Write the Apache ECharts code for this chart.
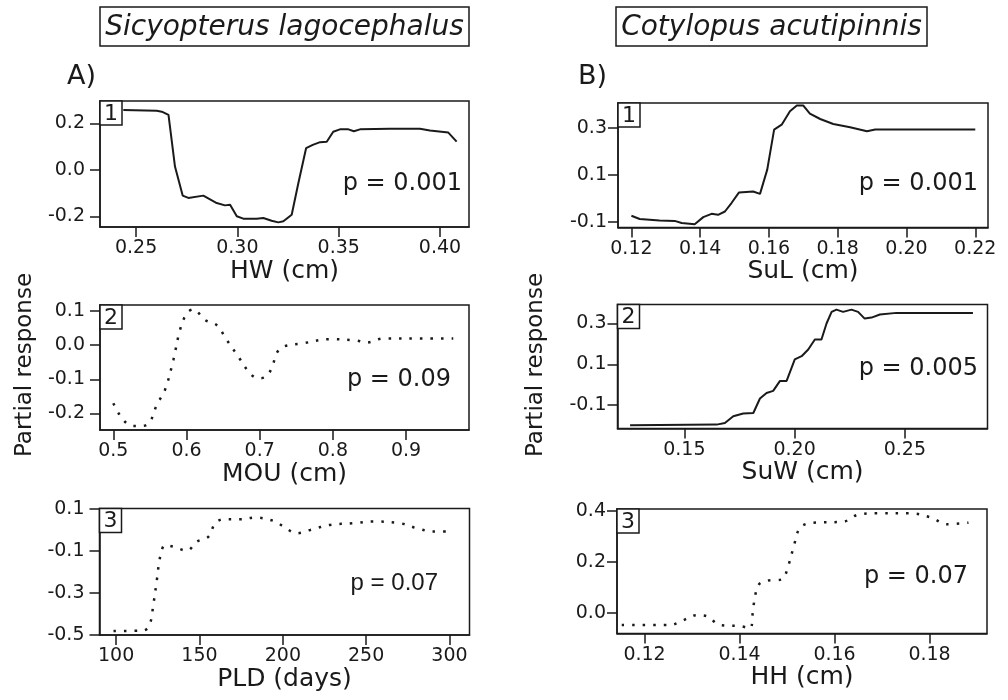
<!DOCTYPE html>
<html>
<head>
<meta charset="utf-8">
<script src="https://cdn.jsdelivr.net/npm/echarts@6/dist/echarts.min.js"></script>
<style>html,body{margin:0;padding:0;background:#fff}#c{width:1008px;height:700px}</style>
</head>
<body>
<div id="c"></div>
<script>
// ---- data ----
const a1X = [0.2437,0.2602,0.2627,0.266,0.2692,0.273,0.2758,0.2832,0.2898,0.2939,0.2964,0.2997,0.3029,0.3095,0.3128,0.3169,0.3202,0.3227,0.3268,0.3301,0.3339,0.3372,0.3408,0.3441,0.3473,0.3506,0.3548,0.3575,0.3605,0.3753,0.3901,0.395,0.4041,0.4082];
const a1Y = [0.257,0.254,0.25,0.236,0.014,-0.111,-0.121,-0.111,-0.143,-0.153,-0.15,-0.2,-0.21,-0.21,-0.207,-0.219,-0.226,-0.221,-0.193,-0.057,0.093,0.107,0.119,0.121,0.164,0.174,0.174,0.166,0.174,0.177,0.177,0.169,0.16,0.121];
const a2X = [0.5,0.5137,0.5273,0.541,0.5501,0.5593,0.5706,0.582,0.5911,0.6003,0.6093,0.6253,0.6413,0.6549,0.6708,0.6868,0.698,0.7072,0.7164,0.7232,0.7322,0.7596,0.796,0.8325,0.8462,0.8689,0.9235,0.9645];
const a2Y = [-0.17,-0.219,-0.236,-0.236,-0.224,-0.175,-0.131,-0.044,0.044,0.092,0.104,0.073,0.058,0.015,-0.034,-0.083,-0.097,-0.094,-0.068,-0.024,-0.005,0.005,0.017,0.013,0.007,0.019,0.019,0.019];
const a3X = [98.4,116.4,120,122.4,124.4,126.4,129.4,134.4,142.4,148.4,155.4,159.4,164.4,174.4,183.4,194.4,200.4,208.4,216.4,228.4,242.4,254.4,270.4,280.4,290.4,299.4];
const a3Y = [-0.481,-0.478,-0.454,-0.35,-0.239,-0.128,-0.072,-0.08,-0.099,-0.056,-0.032,0.032,0.051,0.051,0.059,0.043,0.016,-0.016,0,0.024,0.032,0.04,0.032,0.008,-0.008,-0.008];
const b1X = [0.12,0.1224,0.1282,0.1326,0.1346,0.1384,0.1409,0.1433,0.1452,0.1472,0.1491,0.1513,0.1554,0.1574,0.1595,0.1615,0.1637,0.1661,0.1681,0.17,0.1719,0.1749,0.1787,0.1836,0.1885,0.1909,0.22];
const b1Y = [-0.073,-0.087,-0.093,-0.095,-0.104,-0.109,-0.079,-0.065,-0.069,-0.055,-0.019,0.026,0.03,0.02,0.123,0.293,0.314,0.371,0.395,0.395,0.361,0.338,0.317,0.303,0.286,0.293,0.293];
const b2X = [0.1254,0.1647,0.1684,0.1722,0.1767,0.1813,0.1843,0.1873,0.1903,0.1934,0.1964,0.2001,0.2032,0.2062,0.2092,0.2122,0.2145,0.2168,0.219,0.222,0.2258,0.2288,0.2318,0.2349,0.2387,0.2462,0.2809];
const b2Y = [-0.198,-0.195,-0.187,-0.154,-0.141,-0.138,-0.067,-0.04,-0.03,0.019,0.019,0.124,0.14,0.173,0.222,0.222,0.3,0.357,0.368,0.357,0.368,0.357,0.324,0.329,0.344,0.352,0.352];
const b3X = [0.1152,0.1254,0.1275,0.131,0.1331,0.1359,0.1401,0.1422,0.1429,0.144,0.1458,0.1489,0.1503,0.1514,0.1528,0.1556,0.1619,0.1647,0.1689,0.1759,0.1802,0.1837,0.1882];
const b3Y = [-0.048,-0.048,-0.035,-0.009,-0.013,-0.048,-0.052,-0.061,0.024,0.109,0.126,0.131,0.187,0.259,0.335,0.353,0.357,0.383,0.39,0.39,0.374,0.347,0.353];

// tick labels
const a1XTicks = [0.25,0.30,0.35,0.40], a1YTicks = [-0.2,0.0,0.2];
const a2XTicks = [0.5,0.6,0.7,0.8,0.9], a2YTicks = [-0.2,-0.1,0.0,0.1];
const a3XTicks = [100,150,200,250,300], a3YTicks = [-0.5,-0.3,-0.1,0.1];
const b1XTicks = [0.12,0.14,0.16,0.18,0.20,0.22], b1YTicks = [-0.1,0.1,0.3];
const b2XTicks = [0.15,0.20,0.25], b2YTicks = [-0.1,0.1,0.3];
const b3XTicks = [0.12,0.14,0.16,0.18], b3YTicks = [0.0,0.2,0.4];

const xNames = ['HW (cm)','MOU (cm)','PLD (days)','SuL (cm)','SuW (cm)','HH (cm)'];
const pTexts = ['p = 0.001','p = 0.09','p = 0.07','p = 0.001','p = 0.005','p = 0.07'];
const panelNums = ['1','2','3','1','2','3'];
const speciesTitles = ['Sicyopterus lagocephalus','Cotylopus acutipinnis'];
const groupLabels = ['A)','B)'];
const yTitle = 'Partial response';

// ---- layout ----
const FONT = "'DejaVu Sans', Verdana, sans-serif";
const INK = '#1a1a1a';
const panels = [
  {x:a1X,y:a1Y,xt:a1XTicks,yt:a1YTicks,xd:2,yd:1,g:{left:100,top:101,width:369,height:126},xr:[0.2322,0.4143],yr:[-0.246,0.296],dash:false,side:'A',p:{x:462,y:184,font:'24px '+FONT}},
  {x:a2X,y:a2Y,xt:a2XTicks,yt:a2YTicks,xd:1,yd:1,g:{left:100,top:305,width:369,height:125},xr:[0.4818,0.986],yr:[-0.248,0.1166],dash:true,side:'A',p:{x:451,y:380,font:'24px '+FONT}},
  {x:a3X,y:a3Y,xt:a3XTicks,yt:a3YTicks,xd:0,yd:1,g:{left:99.5,top:508.5,width:370,height:126.5},xr:[90,312],yr:[-0.5,0.102],dash:true,side:'A',p:{x:438,y:583,font:"24px 'Liberation Sans', Arial, sans-serif"}},
  {x:b1X,y:b1Y,xt:b1XTicks,yt:b1YTicks,xd:2,yd:1,g:{left:618,top:103,width:370,height:124.5},xr:[0.1161,0.2237],yr:[-0.123,0.406],dash:false,side:'B',p:{x:978,y:184,font:'24px '+FONT}},
  {x:b2X,y:b2Y,xt:b2XTicks,yt:b2YTicks,xd:2,yd:1,g:{left:617.5,top:304.5,width:370,height:124},xr:[0.1197,0.2875],yr:[-0.214,0.393],dash:false,side:'B',p:{x:978,y:369,font:'24px '+FONT}},
  {x:b3X,y:b3Y,xt:b3XTicks,yt:b3YTicks,xd:2,yd:1,g:{left:617,top:509,width:370,height:124.5},xr:[0.1142,0.1921],yr:[-0.081,0.4067],dash:true,side:'B',p:{x:968,y:577,font:'24px '+FONT}}
];

const grid = [], xAxis = [], yAxis = [], series = [], graphic = [];
panels.forEach((pn, i) => {
  grid.push(Object.assign({show:true, borderColor:INK, borderWidth:1.5, backgroundColor:'transparent', containLabel:false}, pn.g));
  xAxis.push({
    type:'value', gridIndex:i, min:pn.xr[0], max:pn.xr[1], position:'bottom',
    name:xNames[i], nameLocation:'middle', nameGap:29,
    nameTextStyle:{fontFamily:FONT, fontSize:25, color:INK},
    axisLine:{show:true, onZero:false, lineStyle:{color:INK, width:1.5}},
    axisTick:{show:true, inside:false, length:10, customValues:pn.xt, lineStyle:{color:INK, width:1.5}},
    axisLabel:{show:true, margin:12, customValues:pn.xt, fontFamily:FONT, fontSize:19, color:INK,
      formatter:v => v.toFixed(pn.xd)},
    splitLine:{show:false}
  });
  yAxis.push({
    type:'value', gridIndex:i, min:pn.yr[0], max:pn.yr[1], position:'left',
    axisLine:{show:true, onZero:false, lineStyle:{color:INK, width:1.5}},
    axisTick:{show:true, inside:false, length:10, customValues:pn.yt, lineStyle:{color:INK, width:1.5}},
    axisLabel:{show:true, margin: pn.side==='A' ? 15 : 11, customValues:pn.yt, fontFamily:FONT, fontSize:19, color:INK,
      formatter:v => v.toFixed(pn.yd)},
    splitLine:{show:false}
  });
  series.push({
    type:'line', xAxisIndex:i, yAxisIndex:i, showSymbol:false, symbol:'none',
    smooth: pn.dash ? 0.35 : false,
    data: pn.x.map((v,k) => [v, pn.y[k]]),
    lineStyle: pn.dash ? {color:INK, width:2.5, type:[2.5,8], cap:'butt'} : {color:INK, width:2},
    z:2, silent:true, animation:false
  });
  graphic.push({type:'rect', z:100, shape:{x:pn.g.left, y:pn.g.top, width:22, height:24},
    style:{fill:'#fff', stroke:INK, lineWidth:1.5}});
  graphic.push({type:'text', z:101, x:pn.g.left+11, y:pn.g.top+13,
    style:{text:panelNums[i], font:'22px '+FONT, fill:INK, align:'center', verticalAlign:'middle'}});
  graphic.push({type:'text', z:101, x:pn.p.x, y:pn.p.y,
    style:{text:pTexts[i], font:pn.p.font, fill:INK, align:'right', verticalAlign:'middle'}});
});

// species titles
const TFONT = "italic 28px 'DejaVu Sans', sans-serif";
[[100,7,369,39],[616,7,311,39]].forEach((r,i)=>{
  graphic.push({type:'rect', z:100, shape:{x:r[0],y:r[1],width:r[2],height:r[3]},
    style:{fill:'#fff', stroke:INK, lineWidth:1.5}});
  graphic.push({type:'text', z:101, x:r[0]+r[2]/2, y:r[1]+r[3]/2+1,
    style:{text:speciesTitles[i], font:TFONT, fill:INK, align:'center', verticalAlign:'middle'}});
});
[[67,77],[578,77]].forEach((p,i)=>{
  graphic.push({type:'text', z:101, x:p[0], y:p[1],
    style:{text:groupLabels[i], font:"27px 'DejaVu Sans', sans-serif", fill:INK, align:'left', verticalAlign:'middle'}});
});
[[25,365],[536,365]].forEach(p=>{
  graphic.push({type:'text', z:101, x:p[0], y:p[1], rotation:Math.PI/2,
    style:{text:yTitle, font:'23px '+FONT, fill:INK, align:'center', verticalAlign:'middle'}});
});

const chart = echarts.init(document.getElementById('c'), null, {renderer:'canvas'});
chart.setOption({animation:false, backgroundColor:'#fff', grid, xAxis, yAxis, series, graphic});
</script>
</body>
</html>
